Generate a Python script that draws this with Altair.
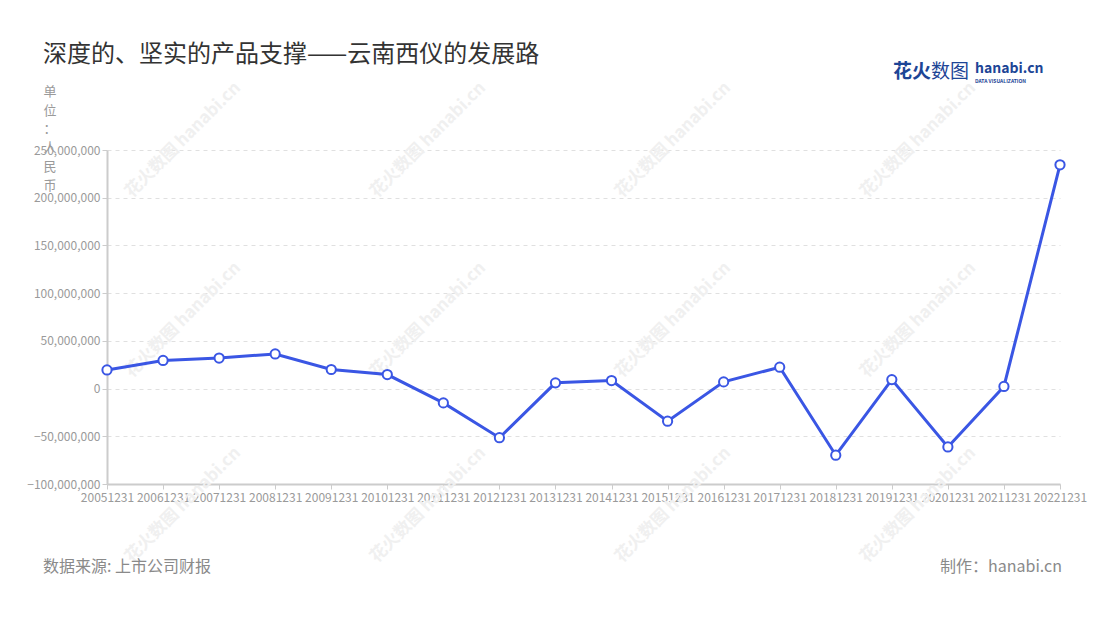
import altair as alt
import pandas as pd

dates = ["20051231", "20061231", "20071231", "20081231", "20091231", "20101231",
         "20111231", "20121231", "20131231", "20141231", "20151231", "20161231",
         "20171231", "20181231", "20191231", "20201231", "20211231", "20221231"]
values = [19500000, 29500000, 32000000, 36300000, 20000000, 14700000,
          -15000000, -51500000, 6000000, 8400000, -34200000, 7000000,
          22400000, -69800000, 9400000, -61200000, 2200000, 234500000]

y_ticks = [-100000000, -50000000, 0, 50000000, 100000000, 150000000, 200000000, 250000000]

title_text = "深度的、坚实的产品支撑——云南西仪的发展路"
unit_lines = ["单", "位", "：", "", "人", "民", "币"]
source_text = "数据来源: 上市公司财报"
maker_text = "制作：hanabi.cn"
wm_text = "花火数图 hanabi.cn"

FONT = "Noto Sans CJK SC"
W, H = 953, 334

df = pd.DataFrame({"date": dates, "value": values})
one = pd.DataFrame({"k": [0]})


def txt(text, x, y, **kw):
    return alt.Chart(one).mark_text(text=text, font=FONT, **kw).encode(
        x=alt.value(x), y=alt.value(y))


layers = []
# watermarks
for wy in [-10, 170, 355]:
    for wx in [76, 321, 566, 811]:
        layers.append(txt(wm_text, wx, wy, angle=315, fontSize=17, fontWeight="bold",
                          color="#f0f0f0", align="center", baseline="middle"))

base = alt.Chart(df).encode(
    x=alt.X("date:O", sort=dates, title=None,
            scale=alt.Scale(type="point", padding=0),
            axis=alt.Axis(labelAngle=0, labelOverlap=False, labelColor="#9a9a9a",
                          labelFontSize=12, labelFont=FONT, domainColor="#cccccc",
                          domainWidth=2, tickColor="#cccccc", tickSize=5,
                          labelPadding=3, grid=False)),
    y=alt.Y("value:Q", title=None,
            scale=alt.Scale(domain=[-100000000, 250000000], nice=False, zero=False),
            axis=alt.Axis(values=y_ticks, format=",d", labelColor="#9a9a9a",
                          labelFontSize=12, labelFont=FONT, domainColor="#cccccc",
                          domainWidth=2, tickColor="#cccccc", tickSize=5,
                          labelPadding=2, grid=True, gridColor="#e0e0e0",
                          gridDash=[4, 4], gridWidth=1)),
)

line = base.mark_line(color="#3a56e4", strokeWidth=3)
pts = base.mark_point(shape="circle", filled=True, fill="white", stroke="#3a56e4",
                      strokeWidth=2, size=85, opacity=1)
layers += [line, pts]

layers.append(txt(title_text, -64, -95, fontSize=24, color="#333333",
                  align="left", baseline="middle"))
layers.append(alt.Chart(one).mark_text(text=unit_lines, font=FONT, fontSize=13,
                                        color="#9a9a9a", align="center", baseline="top",
                                        lineHeight=18.7).encode(
    x=alt.value(-57), y=alt.value(-64)))
layers.append(txt(source_text, -64, 417, fontSize=16, color="#8a8a8a",
                  align="left", baseline="middle"))
layers.append(txt(maker_text, 955, 417, fontSize=16, color="#8a8a8a",
                  align="right", baseline="middle"))
# logo
layers.append(txt("花火", 786, -78, fontSize=19, fontWeight="bold", color="#1d4596",
                  align="left", baseline="middle"))
layers.append(txt("数图", 824, -78, fontSize=19, fontWeight="normal", color="#1d4596",
                  align="left", baseline="middle"))
layers.append(txt("hanabi.cn", 868, -81, fontSize=14, fontWeight="bold", color="#1d4596",
                  align="left", baseline="middle"))
layers.append(txt("DATA VISUALIZATION", 868, -69, fontSize=5, fontWeight="bold",
                  color="#1d4596", align="left", baseline="middle"))

chart = alt.layer(*layers).properties(
    width=W, height=H,
    autosize=alt.AutoSizeParams(type="none"),
    padding={"left": 99, "top": 142, "right": 32, "bottom": 120},
).configure(background="white").configure_view(stroke=None)

chart.save("out.html", embed_options={"renderer": "svg", "actions": False})
